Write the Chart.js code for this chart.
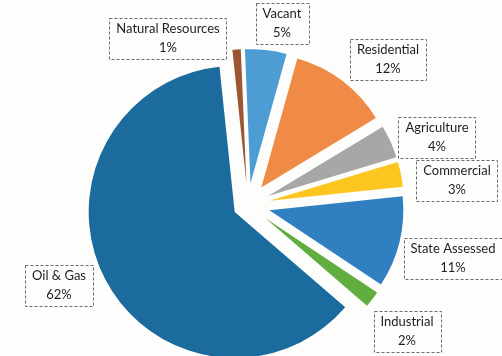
<!DOCTYPE html>
<html>
<head>
<meta charset="utf-8">
<script src="https://cdn.jsdelivr.net/npm/chart.js@4/dist/chart.umd.min.js"></script>
<style>
  html, body { margin: 0; padding: 0; background: #fdfdfb; }
  #wrap { width: 502px; height: 356px; }
</style>
</head>
<body>
<div id="wrap"><canvas id="pieChart" width="502" height="356"></canvas></div>
<script>
// values (percent of total)
var categories = ['Natural Resources', 'Vacant', 'Residential', 'Agriculture',
                  'Commercial', 'State Assessed', 'Industrial', 'Oil & Gas'];
var shares = [1, 5, 12, 4, 3, 11, 2, 62];

var colors = ['#9c5632', '#4d9dd4', '#f08b47', '#a7a7a7',
              '#fcc51f', '#2f7fc1', '#62ad3f', '#1b6b9e'];
// how far each slice is pulled out from the centre (px) and its radius
var explode = [22, 22, 22, 22, 22, 22, 22, 15];
var sliceRadius = [134, 134, 134, 134, 134, 134, 134, 146];

// label box centres (layout only)
var labelPos = [[168, 38], [282, 23], [388, 59], [437, 137],
                [457, 180], [453, 258], [407, 331], [59, 285]];

// chart.js' own offset also grows the radius, so shift the arcs directly
var explodePlugin = {
    id: 'explodePlugin',
    afterDatasetsUpdate: function (chart) {
        chart.getDatasetMeta(0).data.forEach(function (arc, i) {
            var mid = (arc.startAngle + arc.endAngle) / 2;
            arc.x += Math.cos(mid) * explode[i];
            arc.y += Math.sin(mid) * explode[i];
            arc.outerRadius = sliceRadius[i];
        });
    }
};

var boxLabels = {
    id: 'boxLabels',
    afterDraw: function (chart) {
        var ctx = chart.ctx;
        ctx.save();
        ctx.font = '13px Lato';
        ctx.textAlign = 'center';
        ctx.textBaseline = 'middle';
        categories.forEach(function (name, i) {
            var cx = labelPos[i][0], cy = labelPos[i][1];
            var pct = shares[i] + '%';
            var w = Math.max(ctx.measureText(name).width, ctx.measureText(pct).width) + 14;
            var h = 41;
            ctx.setLineDash([3, 2]);
            ctx.strokeStyle = '#6a6a6a';
            ctx.lineWidth = 1;
            ctx.strokeRect(Math.round(cx - w / 2) + 0.5, Math.round(cy - h / 2) + 0.5, Math.round(w), h);
            ctx.fillStyle = '#1e1e1e';
            ctx.fillText(name, cx, cy - 9);
            ctx.fillText(pct, cx, cy + 10);
        });
        ctx.restore();
    }
};

var pieChart = new Chart(document.getElementById('pieChart'), {
    type: 'pie',
    data: {
        labels: categories,
        datasets: [{
            data: shares,
            backgroundColor: colors,
            borderWidth: 0,
            hoverOffset: 0
        }]
    },
    options: {
        responsive: false,
        animation: false,
        events: [],
        rotation: -6,
        radius: 146,
        layout: { padding: { left: 0, right: 6, top: 54, bottom: 0 } },
        plugins: {
            legend: { display: false },
            tooltip: { enabled: false }
        }
    },
    plugins: [explodePlugin, boxLabels]
});
</script>
</body>
</html>
